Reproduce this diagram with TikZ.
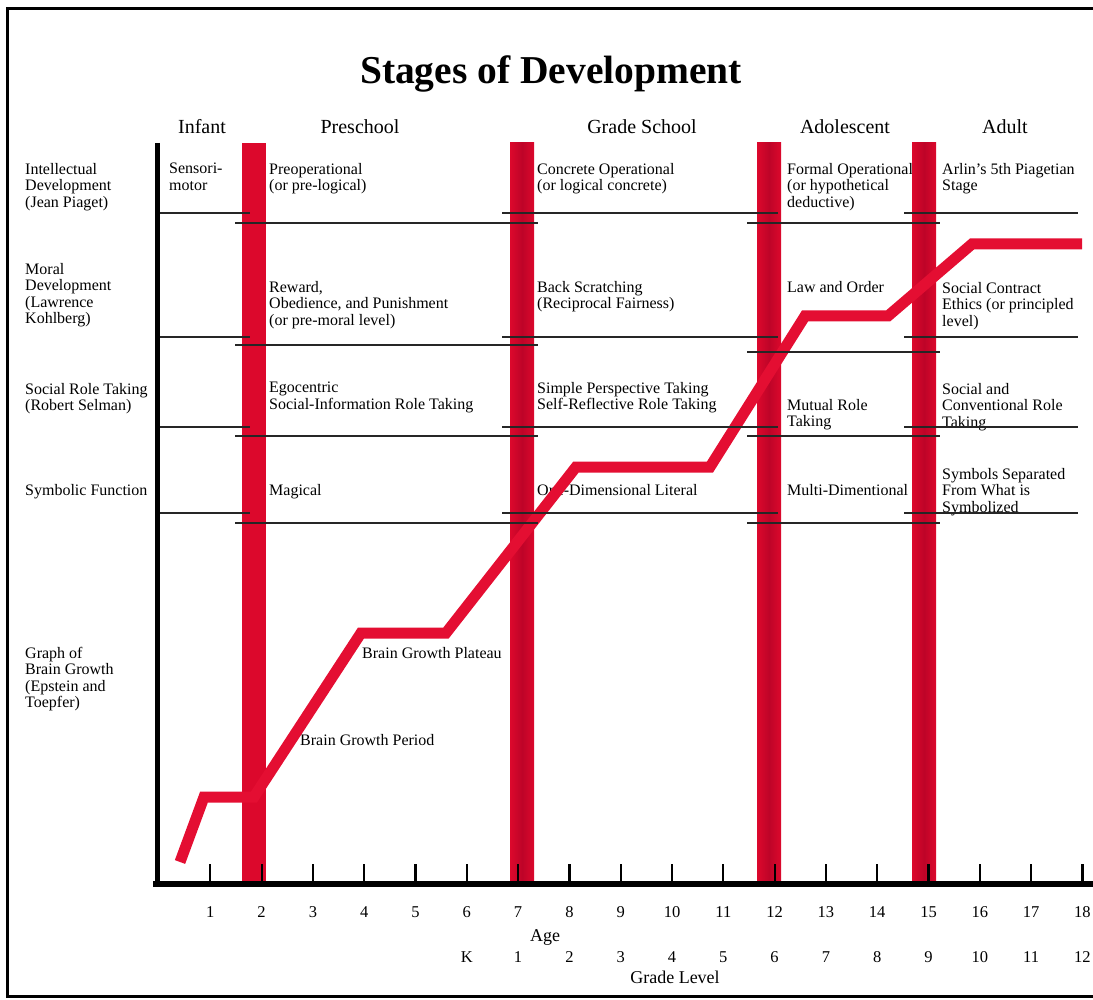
\documentclass[tikz,border=0pt]{standalone}
\usepackage{fontspec}
\setmainfont{Liberation Serif}
\usepackage{xcolor}
\usepackage{tikz}
\usetikzlibrary{positioning}
\definecolor{stagered}{RGB}{220,8,44}
\definecolor{stagedark}{RGB}{190,4,40}
\definecolor{growthred}{RGB}{228,14,50}

\begin{document}
\begin{tikzpicture}[
    x=1pt, y=-1pt,
    lbl/.style={anchor=north west, inner sep=0pt, align=left, font=\fontsize{16}{16.5}\selectfont},
    stagename/.style={anchor=base, inner sep=0pt, font=\fontsize{20}{22}\selectfont},
    num/.style={anchor=base, inner sep=0pt, font=\fontsize{16.5}{18}\selectfont},
    axislabel/.style={anchor=base, inner sep=0pt, font=\fontsize{18}{20}\selectfont},
    bar/.style={left color=stagered, right color=stagered, middle color=stagedark},
    rowline/.style={line width=1.8pt, black!85},
    growth/.style={line width=11pt, growthred, line join=miter}
]
\useasboundingbox (0,0) rectangle (1093,1000);
\draw[line width=3pt] (1093,9) -- (7,9) -- (7,996) -- (1093,996);

% title and stage names
\node[anchor=base, inner sep=0pt, font=\bfseries\fontsize{39.5}{42}\selectfont] (title) at (551,84) {Stages of Development};
\node[stagename] (infant) at (202,134) {Infant};
\node[stagename] (preschool) at (360,134) {Preschool};
\node[stagename] (gradeschool) at (642,134) {Grade School};
\node[stagename] (adolescent) at (845,134) {Adolescent};
\node[stagename] (adult) at (1005,134) {Adult};

% row titles
\node[lbl] (intel) at (25,163) {Intellectual\\Development\\(Jean Piaget)};
\node[lbl] (moral) at (25,263) {Moral\\Development\\(Lawrence\\Kohlberg)};
\node[lbl] (social) at (25,383) {Social Role Taking\\(Robert Selman)};
\node[lbl] (symbolic) at (25,484) {Symbolic Function};
\node[lbl] (brain) at (25,647) {Graph of\\Brain Growth\\(Epstein and\\Toepfer)};

% intellectual
\node[lbl] (sensori) at (169,163) {Sensori-\\motor};
\node[lbl] (preop) at (269,163) {Preoperational\\(or pre-logical)};
\node[lbl] (concrete) at (537,163) {Concrete Operational\\(or logical concrete)};
\node[lbl] (formal) at (787,163) {Formal Operational\\(or hypothetical\\deductive)};
\node[lbl] (arlin) at (942,163) {Arlin's 5th Piagetian\\Stage};

% moral
\node[lbl] (reward) at (269,281) {Reward,\\Obedience, and Punishment\\(or pre-moral level)};
\node[lbl] (backscratch) at (537,281) {Back Scratching\\(Reciprocal Fairness)};
\node[lbl] (laworder) at (787,281) {Law and Order};
\node[lbl] (contract) at (942,282) {Social Contract\\Ethics (or principled\\level)};

% social role taking
\node[lbl] (egocentric) at (269,382) {Egocentric\\Social-Information Role Taking};
\node[lbl] (perspective) at (537,382) {Simple Perspective Taking\\Self-Reflective Role Taking};
\node[lbl] (mutual) at (787,399) {Mutual Role\\Taking};
\node[lbl] (conventional) at (942,383) {Social and\\Conventional Role\\Taking};

% symbolic function
\node[lbl] (magical) at (269,484) {Magical};
\node[lbl] (onedim) at (537,484) {One-Dimensional Literal};
\node[lbl] (multidim) at (787,484) {Multi-Dimentional};
\node[lbl] (symbols) at (942,468) {Symbols Separated\\From What is\\Symbolized};

% brain growth
\node[lbl] (plateau) at (362,647) {Brain Growth Plateau};
\node[lbl] (period) at (300,734) {Brain Growth Period};

% stage bars
\fill[stagered] (242,143) rectangle (266,884);
\fill[bar] (510,143) rectangle (534,884);
\fill[bar] (757,143) rectangle (781,884);
\fill[bar] (912,143) rectangle (936,884);

\draw[growth] (180,862) -- (204,797) -- (254,797) -- (361,633) -- (446,633) -- (576,467)
    -- (710,467) -- (805,316) -- (888,316) -- (972,244) -- (1082,244);

% row separators
\foreach \up/\lo/\lob in {213/223/223, 337/345/352, 427/436/436, 513/523/523} {
  \draw[rowline] (160,\up) -- (250,\up);
  \draw[rowline] (235,\lo) -- (538,\lo);
  \draw[rowline] (502,\up) -- (778,\up);
  \draw[rowline] (747,\lob) -- (940,\lob);
  \draw[rowline] (904,\up) -- (1078,\up);
}

% axes
\draw[line width=5pt] (157,143) -- (157,884);
\draw[line width=6pt] (153,884) -- (1093,884);
\foreach \a in {1,...,18} {
  \draw[line width=2.2pt] ({159+51.3*\a},864) -- ++(0,20);
  \node[num] (age\a) at ({159+51.3*\a},917) {\a};
}
\foreach \g [count=\a from 6] in {K,1,2,3,4,5,6,7,8,9,10,11,12}
  \node[num] (grade\a) at ({159+51.3*\a},962) {\g};
\node[axislabel] (agelabel) at (545,941) {Age};
\node[axislabel] (gradelabel) at (675,983) {Grade Level};
\end{tikzpicture}
\end{document}
